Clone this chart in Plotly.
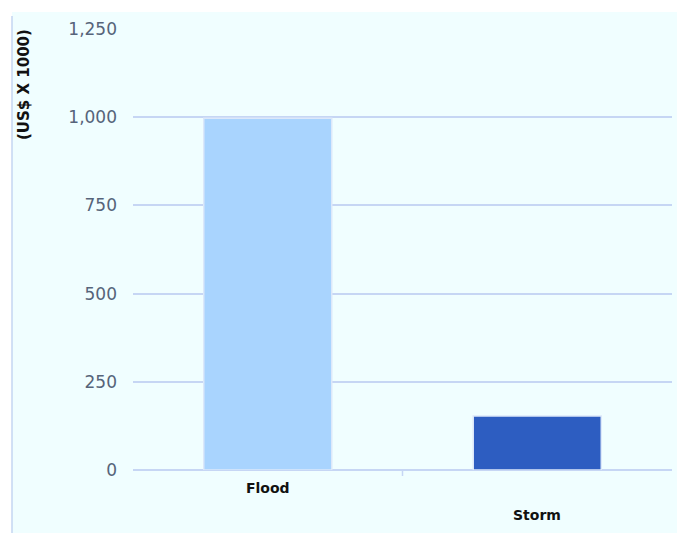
import plotly.graph_objects as go

# Economic damage by disaster type
categories = ["Flood", "Storm"]
damage = [997, 153]
bar_colors = ["#A9D4FE", "#2D5DC1"]
tick_values = [0, 250, 500, 750, 1000, 1250]
tick_labels = ["0", "250", "500", "750", "1,000", "1,250"]
axis_title = "(US$ X 1000)"

W, H = 677, 533
ML, MR, MT, MB = 133, 5, 29, 63
pw, ph = W - ML - MR, H - MT - MB

def px_x(x):
    return (x - ML) / pw

def px_y(y):
    return (H - MB - y) / ph

bg = "#F0FEFF"
grid = "#C6D6F4"

fig = go.Figure()
fig.add_trace(go.Bar(
    x=categories,
    y=damage,
    width=0.475,
    marker=dict(color=bar_colors, line=dict(color="#DCE8FA", width=1.5)),
    hoverinfo="x+y",
))

# staggered category labels, drawn below the axis
label_rows = [488, 515]
cat_labels = [
    dict(text="<b>" + c + "</b>", xref="x", yref="paper", x=i, y=px_y(label_rows[i % 2]),
         showarrow=False, font=dict(size=14, color="#111111"),
         xanchor="center", yanchor="middle")
    for i, c in enumerate(categories)
]

fig.update_layout(
    width=W, height=H,
    margin=dict(l=ML, r=MR, t=MT, b=MB),
    paper_bgcolor="white",
    plot_bgcolor=bg,
    showlegend=False,
    font=dict(family="DejaVu Sans", color="#56647A"),
    xaxis=dict(
        range=[-0.5, 1.5],
        showticklabels=False,
        showgrid=False,
        ticks="",
        showline=False,
        zeroline=False,
    ),
    yaxis=dict(
        range=[0, 1250],
        tickmode="array",
        tickvals=tick_values,
        ticktext=tick_labels,
        tickfont=dict(size=17, color="#56647A"),
        showgrid=True,
        gridcolor=grid,
        gridwidth=2,
        zeroline=True,
        zerolinecolor=grid,
        zerolinewidth=2,
        ticks="",
        ticklabelstandoff=15,
        showline=False,
    ),
    shapes=[
        # outer panel
        dict(type="rect", xref="paper", yref="paper", layer="below",
             x0=px_x(12), x1=px_x(677), y0=px_y(533), y1=px_y(12),
             fillcolor=bg, line=dict(width=0)),
        # panel left edge
        dict(type="line", xref="paper", yref="paper", layer="below",
             x0=px_x(12), x1=px_x(12), y0=px_y(533), y1=px_y(16),
             line=dict(color="#C4D6F2", width=1.5)),
        # divider tick between categories
        dict(type="line", xref="x", yref="paper",
             x0=0.5, x1=0.5, y0=0, y1=px_y(476),
             line=dict(color=grid, width=1.5)),
    ],
    annotations=[
        dict(text="<b>" + axis_title + "</b>", textangle=-90,
             xref="paper", yref="paper", x=px_x(24), y=px_y(85),
             showarrow=False, font=dict(size=15, color="#111111"),
             xanchor="center", yanchor="middle"),
    ] + cat_labels,
)

fig.write_html("out.html")
